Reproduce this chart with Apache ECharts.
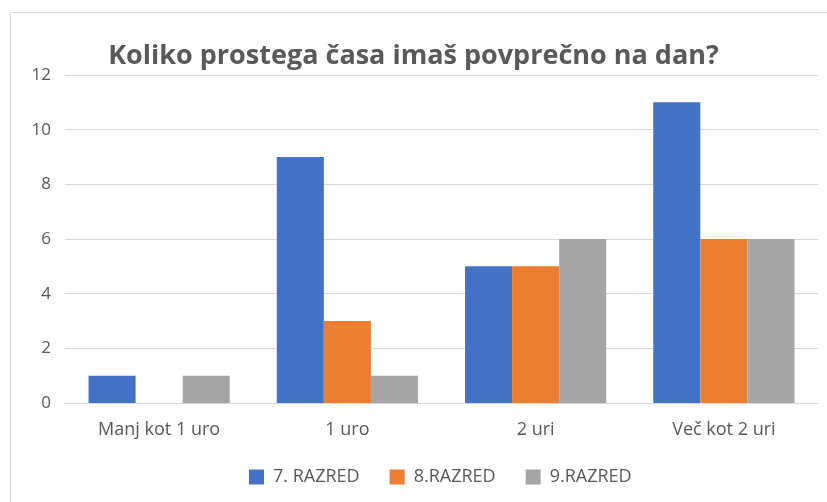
<!DOCTYPE html>
<html><head><meta charset="utf-8">
<script src="https://cdn.jsdelivr.net/npm/echarts@6/dist/echarts.min.js"></script>
<style>html,body{margin:0;padding:0;background:#fff}#c{width:827px;height:502px}</style>
</head><body><div id="c"></div>
<script>
const categories = ["Manj kot 1 uro", "1 uro", "2 uri", "Več kot 2 uri"];
const seriesNames = ["7. RAZRED", "8.RAZRED", "9.RAZRED"];
const s7 = [1, 9, 5, 11];
const s8 = [0, 3, 5, 6];
const s9 = [1, 1, 6, 6];
const colors = ["#4472c4", "#ed7d31", "#a5a5a5"];
const yTicks = { min: 0, max: 12, interval: 2 };

const chart = echarts.init(document.getElementById('c'));
const font = '"Open Sans", "Liberation Sans", sans-serif';
chart.setOption({
  animation: false,
  textStyle: { fontFamily: font },
  graphic: [{
    type: 'rect', shape: { x: 10.5, y: 12.5, width: 830, height: 500 },
    style: { fill: 'none', stroke: '#d9d9d9', lineWidth: 1 }, silent: true
  }],
  title: {
    text: 'Koliko prostega časa imaš povprečno na dan?',
    left: 'center', top: 38,
    textStyle: { fontFamily: font, fontSize: 27, fontWeight: 'bold', color: '#595959' }
  },
  legend: {
    data: seriesNames, bottom: 11, left: 244,
    itemWidth: 15, itemHeight: 15, itemGap: 30, icon: 'rect',
    textStyle: { fontFamily: font, fontSize: 18, color: '#595959', padding: [0, 0, 0, 4] }
  },
  grid: { left: 65, right: 9, top: 75, bottom: 99, containLabel: false },
  xAxis: {
    type: 'category', data: categories,
    axisLine: { show: true, lineStyle: { color: '#d9d9d9' } },
    axisTick: { show: false },
    axisLabel: { fontSize: 18, color: '#595959', margin: 18 }
  },
  yAxis: {
    type: 'value', min: yTicks.min, max: yTicks.max, interval: yTicks.interval,
    axisLine: { show: false }, axisTick: { show: false },
    splitLine: { lineStyle: { color: '#d9d9d9' } },
    axisLabel: { fontSize: 17, color: '#595959', margin: 14 }
  },
  series: [
    { name: seriesNames[0], type: 'bar', data: s7, itemStyle: { color: colors[0] }, barGap: '0%', barCategoryGap: '25%' },
    { name: seriesNames[1], type: 'bar', data: s8, itemStyle: { color: colors[1] }, barGap: '0%', barCategoryGap: '25%' },
    { name: seriesNames[2], type: 'bar', data: s9, itemStyle: { color: colors[2] }, barGap: '0%', barCategoryGap: '25%' }
  ]
});
</script></body></html>
